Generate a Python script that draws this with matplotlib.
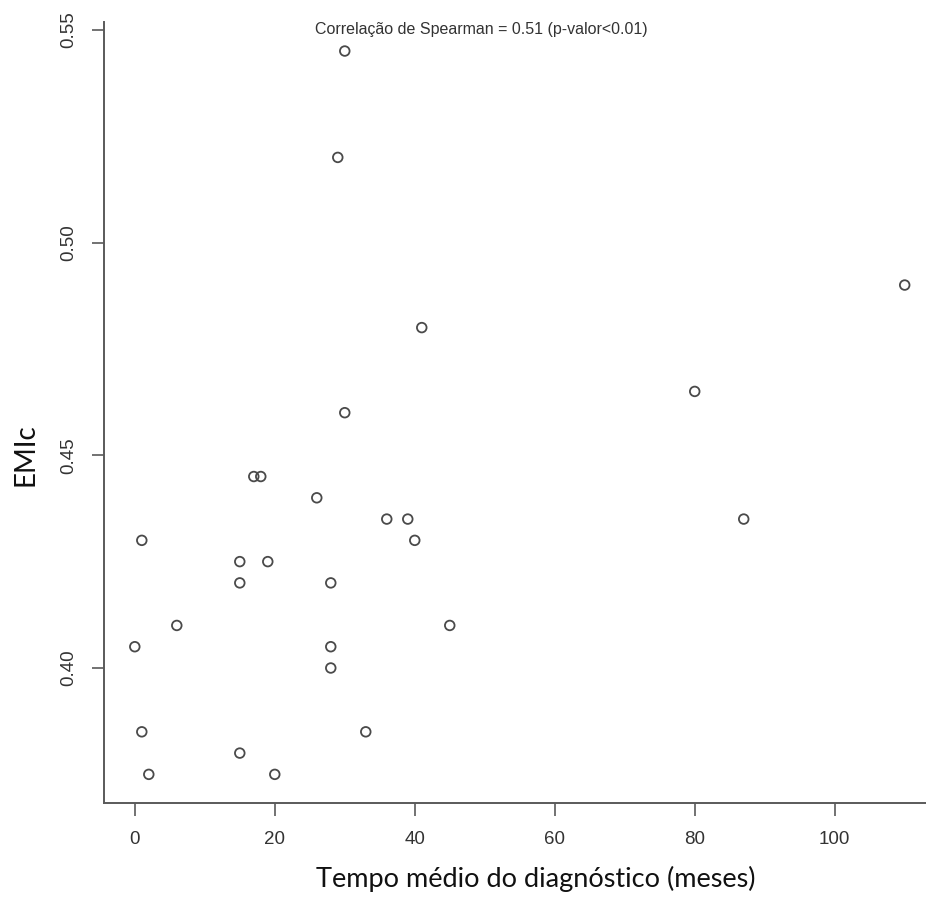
import matplotlib.pyplot as plt

# diagnosis time (months) vs EMIc
tempo = [0, 1, 1, 2, 6, 15, 15, 15, 17, 18, 19, 20, 26, 28, 28, 28, 29, 30, 30,
         33, 36, 39, 40, 41, 45, 80, 87, 110]
emic = [0.405, 0.43, 0.385, 0.375, 0.41, 0.425, 0.42, 0.38, 0.445, 0.445, 0.425,
        0.375, 0.44, 0.42, 0.405, 0.40, 0.52, 0.545, 0.46, 0.385, 0.435, 0.435,
        0.43, 0.48, 0.41, 0.465, 0.435, 0.49]
x_ticks = [0, 20, 40, 60, 80, 100]
y_ticks = [0.40, 0.45, 0.50, 0.55]

axis_gray = '#5a5a5a'
text_gray = '#333333'

fig = plt.figure(figsize=(9.26, 9.09), dpi=100)
ax = fig.add_axes([104 / 926, 1 - 803.3 / 909, 831.5 / 926, 781.2 / 909])

ax.scatter(tempo, emic, s=48, facecolors='none', edgecolors='#4a4a4a',
           linewidths=1.3, zorder=3)

# R-style padding (4% each side)
ax.set_xlim(-4.4, 114.4)
ax.set_ylim(0.3682, 0.5518)

ax.set_xticks(x_ticks)
ax.set_xticklabels([str(t) for t in x_ticks])
ax.set_yticks(y_ticks)
ax.set_yticklabels(['%.2f' % t for t in y_ticks], rotation=90, va='center')

# L-shaped box
for side in ['top', 'right']:
    ax.spines[side].set_visible(False)
for side in ['left', 'bottom']:
    ax.spines[side].set_color(axis_gray)
    ax.spines[side].set_linewidth(1.4)

ax.tick_params(axis='both', direction='out', length=9, width=1.2,
               color=axis_gray, labelcolor=text_gray, labelsize=13.5)
ax.tick_params(axis='x', pad=11)
ax.tick_params(axis='y', pad=10)
for lab in ax.get_xticklabels() + ax.get_yticklabels():
    lab.set_family('Liberation Sans')

ax.text(49.5, 0.55, 'Correlação de Spearman = 0.51 (p-valor<0.01)',
        ha='center', va='center', fontsize=11.5, color=text_gray,
        family='Liberation Sans')

fig.text(536 / 926, 1 - 879 / 909, 'Tempo médio do diagnóstico (meses)',
         ha='center', va='center', fontsize=19.5, family='Lato', color='#111111')
fig.text(25 / 926, 1 - 455 / 909, 'EMIc', rotation=90,
         ha='center', va='center', fontsize=20, family='Lato', color='#111111')

fig.savefig('out.png', dpi=100)
